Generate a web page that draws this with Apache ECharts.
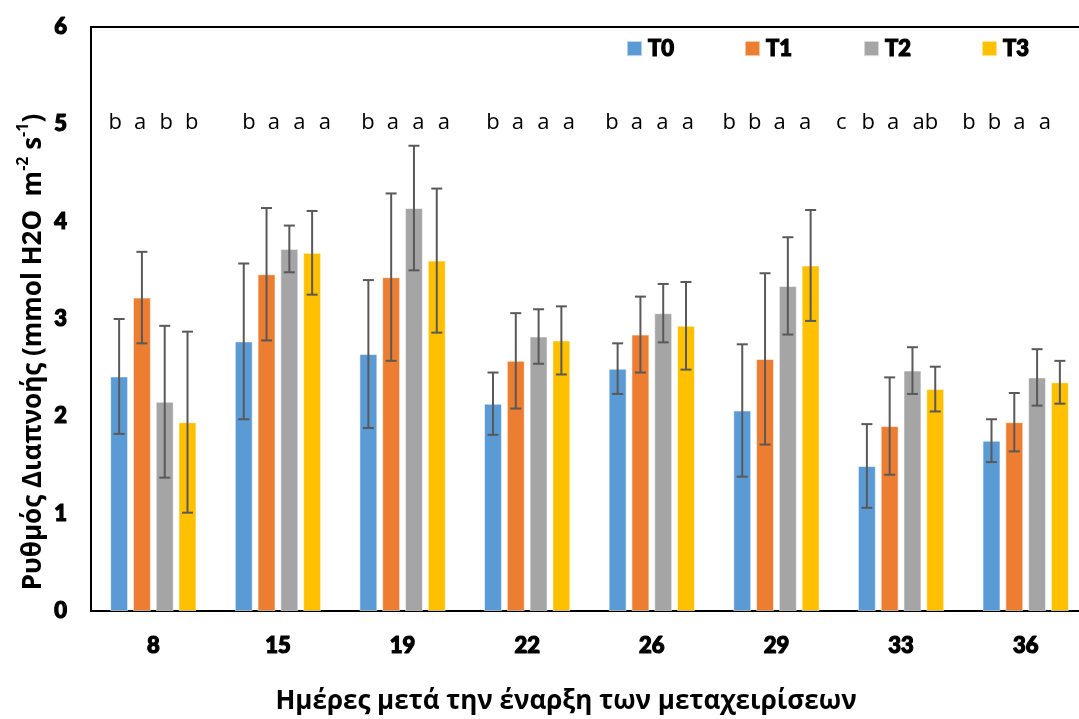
<!DOCTYPE html>
<html>
<head>
<meta charset="utf-8">
<script src="https://cdn.jsdelivr.net/npm/echarts@6/dist/echarts.min.js"></script>
<style>
  html, body { margin: 0; padding: 0; background: #fff; }
  #chart { width: 1079px; height: 719px; }
</style>
</head>
<body>
<div id="chart"></div>
<script>
// Days after the start of the treatments
const days = ['8', '15', '19', '22', '26', '29', '33', '36'];
const treatments = ['T0', 'T1', 'T2', 'T3'];

// Mean transpiration rate (mmol H2O m-2 s-1)
const meanT0 = [2.41, 2.77, 2.64, 2.13, 2.49, 2.06, 1.49, 1.75];
const meanT1 = [3.22, 3.46, 3.43, 2.57, 2.84, 2.59, 1.90, 1.94];
const meanT2 = [2.15, 3.72, 4.14, 2.82, 3.06, 3.34, 2.47, 2.40];
const meanT3 = [1.94, 3.68, 3.60, 2.78, 2.93, 3.55, 2.28, 2.35];

// Standard deviations (error bars)
const sdT0 = [0.59, 0.80, 0.76, 0.32, 0.26, 0.68, 0.43, 0.22];
const sdT1 = [0.47, 0.68, 0.86, 0.49, 0.39, 0.88, 0.50, 0.30];
const sdT2 = [0.78, 0.24, 0.64, 0.28, 0.30, 0.50, 0.24, 0.29];
const sdT3 = [0.93, 0.43, 0.74, 0.35, 0.45, 0.57, 0.23, 0.22];

// Significance letters per treatment
const sigT0 = ['b', 'b', 'b', 'b', 'b', 'b', 'c', 'b'];
const sigT1 = ['a', 'a', 'a', 'a', 'a', 'b', 'b', 'b'];
const sigT2 = ['b', 'a', 'a', 'a', 'a', 'a', 'a', 'a'];
const sigT3 = ['b', 'a', 'a', 'a', 'a', 'a', 'ab', 'a'];

const yTicks = { min: 0, max: 6, interval: 1 };
const letterLevel = 5.02;

// ---- styling / layout ----
const colors = ['#5B9BD5', '#ED7D31', '#A5A5A5', '#FFC000'];
const BAR_W = 0.144;          // bar width as share of category width
const BAR_GAP = 0.27;         // gap between bars as share of bar width
const LETTER_PITCH = 25.5;    // px between letters of one group
const letterShift = [-44.8, -35.7, -41.4, -41, -46.6, -53.9, -65.1, -63.5];
const heavy = '"Lato", "Roboto", "DejaVu Sans", sans-serif';
const textFont = '"Open Sans", "Noto Sans", sans-serif';
// extra-heavy label look: bold glyphs with a thin outline of the same colour
const heavyText = {
  color: '#000', fontFamily: heavy, fontWeight: 900, fontSize: 22,
  textBorderColor: '#000', textBorderWidth: 1.2
};

const means = [meanT0, meanT1, meanT2, meanT3];
const sds = [sdT0, sdT1, sdT2, sdT3];
const sigs = [sigT0, sigT1, sigT2, sigT3];

const chart = echarts.init(document.getElementById('chart'), null, { renderer: 'canvas' });

const barSeries = treatments.map((name, i) => ({
  name: name,
  type: 'bar',
  data: means[i],
  barWidth: (BAR_W * 100) + '%',
  barGap: (BAR_GAP * 100) + '%',
  itemStyle: { color: colors[i], borderColor: 'rgba(255,255,255,0.55)', borderWidth: 1 },
  emphasis: { disabled: true },
  z: 2
}));

const errorSeries = treatments.map((name, i) => ({
  name: name + ' sd',
  type: 'custom',
  data: days.map((d, k) => [k, means[i][k], sds[i][k]]),
  encode: { x: 0, y: 1 },
  z: 5,
  silent: true,
  renderItem: function (params, api) {
    const c = api.value(0), m = api.value(1), s = api.value(2);
    const catW = api.size([1, 0])[0];
    const bw = catW * BAR_W;
    const pitch = bw * (1 + BAR_GAP);
    const x = api.coord([c, m])[0] + (i - 1.5) * pitch;
    const yt = api.coord([c, m + s])[1];
    const yb = api.coord([c, m - s])[1];
    const cap = 5.5;
    const st = { stroke: '#595959', lineWidth: 2 };
    return {
      type: 'group',
      children: [
        { type: 'line', shape: { x1: x, y1: yt, x2: x, y2: yb }, style: st },
        { type: 'line', shape: { x1: x - cap, y1: yt, x2: x + cap, y2: yt }, style: st },
        { type: 'line', shape: { x1: x - cap, y1: yb, x2: x + cap, y2: yb }, style: st }
      ]
    };
  }
}));

const letterSeries = {
  name: 'letters',
  type: 'custom',
  data: days.map((d, k) => [k, letterLevel]),
  encode: { x: 0, y: 1 },
  z: 6,
  silent: true,
  renderItem: function (params, api) {
    const k = api.value(0);
    const p = api.coord([k, api.value(1)]);
    const children = sigs.map((sig, j) => ({
      type: 'text',
      x: p[0] + letterShift[k] + j * LETTER_PITCH,
      y: p[1],
      style: {
        text: sig[k],
        fill: '#000',
        fontFamily: textFont,
        fontSize: 22,
        align: 'left',
        verticalAlign: 'middle'
      }
    }));
    return { type: 'group', children: children };
  }
};

const legendX = [626, 744, 863, 981];
const legends = treatments.map((name, i) => ({
  data: [name],
  left: legendX[i],
  top: 37,
  padding: 0,
  icon: 'rect',
  itemWidth: 15,
  itemHeight: 15,
  selectedMode: false,
  textStyle: Object.assign({}, heavyText, { padding: [0, 0, 0, 1] })
}));

chart.setOption({
  animation: false,
  backgroundColor: '#fff',
  grid: {
    left: 91, top: 27, bottom: 108, width: 997,
    outerBoundsMode: 'none',
    containLabel: false,
    show: true, borderColor: '#000', borderWidth: 2, backgroundColor: 'transparent'
  },
  legend: legends,
  xAxis: {
    type: 'category',
    data: days,
    axisLine: { lineStyle: { color: '#000', width: 2 } },
    axisTick: { show: false },
    axisLabel: Object.assign({}, heavyText, { margin: 24 })
  },
  yAxis: {
    type: 'value',
    min: yTicks.min, max: yTicks.max, interval: yTicks.interval,
    axisLine: { show: true, lineStyle: { color: '#000', width: 2 } },
    axisTick: { show: false },
    splitLine: { show: false },
    axisLabel: Object.assign({}, heavyText, { margin: 24 })
  },
  graphic: [
    {
      type: 'text',
      x: 566, y: 702,
      style: {
        text: 'Ημέρες μετά την έναρξη των μεταχειρίσεων',
        fill: '#000',
        fontFamily: textFont,
        fontWeight: 'bold',
        fontSize: 26,
        align: 'center',
        verticalAlign: 'middle'
      }
    },
    {
      type: 'text',
      x: 31, y: 352,
      rotation: Math.PI / 2,
      style: {
        text: '{n|Ρυθμός Διαπνοής (mmol H2O  m}{s|-2}{n| s}{s|-1}{n|)}',
        align: 'center',
        verticalAlign: 'middle',
        rich: {
          n: { fontFamily: textFont, fontWeight: 'bold', fontSize: 26, fill: '#000', lineHeight: 32, verticalAlign: 'bottom' },
          s: { fontFamily: textFont, fontWeight: 'bold', fontSize: 16, fill: '#000', lineHeight: 32, verticalAlign: 'top' }
        }
      }
    }
  ],
  series: [...barSeries, ...errorSeries, letterSeries]
});
</script>
</body>
</html>
